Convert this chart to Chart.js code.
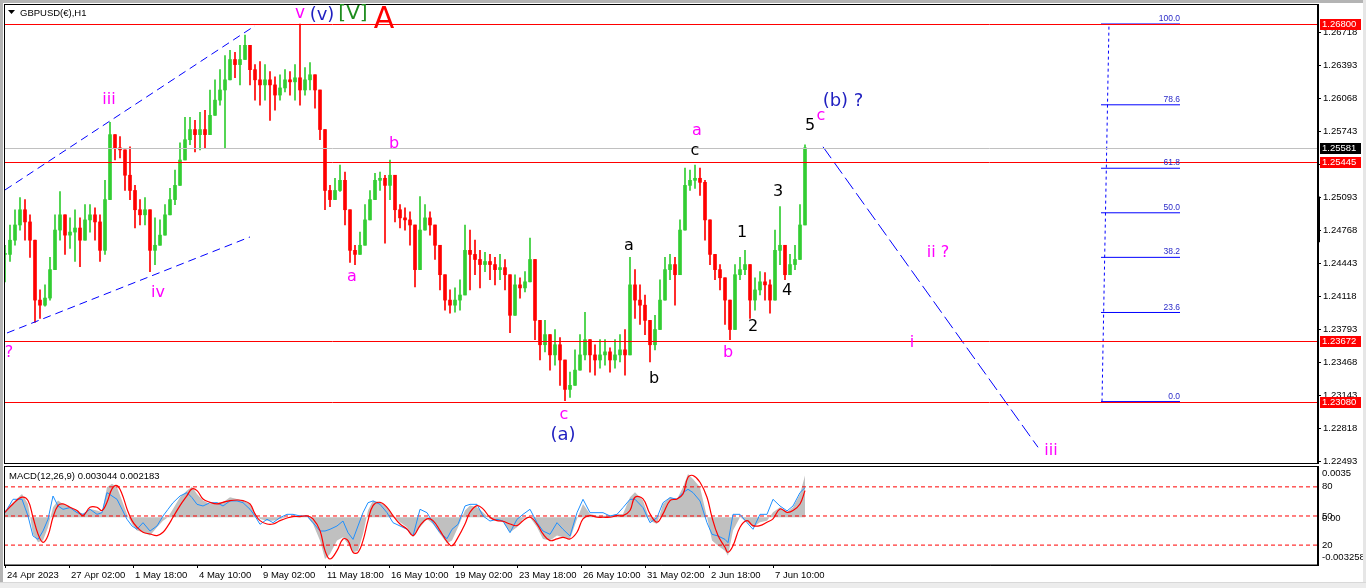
<!DOCTYPE html>
<html>
<head>
<meta charset="utf-8">
<script src="https://cdn.jsdelivr.net/npm/chart.js@4.4.1/dist/chart.umd.min.js"></script>
<style>
  html, body { margin: 0; padding: 0; background: #fff; }
  #wrap { position: relative; width: 1366px; height: 588px; background: #fff; overflow: hidden; }
  #mainBox { position: absolute; left: 0; top: 0; width: 1366px; height: 465px; }
  #macdBox { position: absolute; left: 0; top: 465px; width: 1366px; height: 117px; }
  .edge { position: absolute; background: #b4b4b4; }
  #bottomBar { position: absolute; left: 0; top: 582px; width: 1366px; height: 6px; background: #ececec; border-top: 1px solid #d8d8d8; }
</style>
</head>
<body>
<div id="wrap">
  <div id="mainBox"><canvas id="main" width="1366" height="465"></canvas></div>
  <div id="macdBox"><canvas id="macd" width="1366" height="117"></canvas></div>
  <div class="edge" style="left:0;top:0;width:3px;height:588px"></div>
  <div class="edge" style="left:0;top:0;width:1366px;height:3px"></div>
  <div class="edge" style="left:1363px;top:0;width:3px;height:588px;background:#e6e6e6"></div>
  <div id="bottomBar"></div>
</div>
<script>
// hourly bar index == horizontal position, one candle every 5 bars
const xMin = 4, xMax = 1318;
const candleStep = 5;

const closes = [
  1.2453,1.2467,1.2482,1.2497,1.2485,1.2467,1.2408,1.2403,1.2410,1.2438,
  1.2477,1.2492,1.2472,1.2475,1.2479,1.2467,1.2487,1.2492,1.2485,1.2457,
  1.2507,1.2571,1.2558,1.2556,1.2531,1.2516,1.2497,1.2492,1.2497,1.2457,
  1.2462,1.2472,1.2492,1.2507,1.2521,1.2546,1.2566,1.2576,1.2571,1.2576,
  1.2571,1.2590,1.2605,1.2615,1.2625,1.2645,1.2640,1.2645,1.2659,1.2635,
  1.2625,1.2620,1.2625,1.2620,1.2610,1.2617,1.2625,1.2623,1.2627,1.2615,
  1.2625,1.2630,1.2615,1.2576,1.2516,1.2507,1.2516,1.2526,1.2497,1.2457,
  1.2453,1.2462,1.2487,1.2507,1.2526,1.2528,1.2521,1.2531,1.2497,1.2489,
  1.2487,1.2482,1.2438,1.2477,1.2489,1.2482,1.2462,1.2433,1.2408,1.2403,
  1.2408,1.2413,1.2457,1.2453,1.2448,1.2443,1.2446,1.2443,1.2438,1.2440,
  1.2433,1.2393,1.2423,1.2420,1.2426,1.2448,1.2388,1.2364,1.2374,1.2354,
  1.2364,1.2349,1.2320,1.2324,1.2339,1.2354,1.2369,1.2354,1.2349,1.2354,
  1.2357,1.2349,1.2354,1.2359,1.2354,1.2423,1.2408,1.2403,1.2388,1.2364,
  1.2379,1.2408,1.2438,1.2443,1.2433,1.2477,1.2521,1.2526,1.2528,1.2524,
  1.2487,1.2453,1.2438,1.2430,1.2408,1.2379,1.2433,1.2438,1.2443,1.2408,
  1.2418,1.2426,1.2423,1.2408,1.2457,1.2462,1.2433,1.2443,1.2448,1.2482,
  1.2558
];
const highs = [
  1.2462,1.2482,1.2497,1.2509,1.2507,1.2492,1.2448,1.2418,1.2423,1.2450,
  1.2492,1.2515,1.2489,1.2489,1.2497,1.2489,1.2502,1.2502,1.2499,1.2492,
  1.2526,1.2583,1.2571,1.2569,1.2556,1.2559,1.2521,1.2507,1.2509,1.2492,
  1.2489,1.2487,1.2502,1.2518,1.2536,1.2563,1.2588,1.2588,1.2585,1.2593,
  1.2595,1.2615,1.2625,1.2635,1.2649,1.2654,1.2652,1.2659,1.2669,1.2649,
  1.2640,1.2643,1.2640,1.2633,1.2628,1.2630,1.2635,1.2633,1.2640,1.2680,
  1.2637,1.2642,1.2627,1.2615,1.2576,1.2521,1.2528,1.2541,1.2534,1.2487,
  1.2462,1.2475,1.2502,1.2516,1.2533,1.2534,1.2531,1.2546,1.2531,1.2502,
  1.2499,1.2495,1.2482,1.2510,1.2502,1.2495,1.2482,1.2462,1.2428,1.2418,
  1.2420,1.2428,1.2482,1.2477,1.2467,1.2457,1.2455,1.2453,1.2450,1.2453,
  1.2448,1.2423,1.2433,1.2430,1.2436,1.2469,1.2438,1.2379,1.2388,1.2369,
  1.2379,1.2371,1.2339,1.2337,1.2359,1.2374,1.2396,1.2369,1.2364,1.2369,
  1.2369,1.2361,1.2369,1.2374,1.2379,1.2450,1.2438,1.2423,1.2413,1.2379,
  1.2393,1.2428,1.2450,1.2453,1.2450,1.2487,1.2538,1.2536,1.2541,1.2538,
  1.2526,1.2467,1.2453,1.2443,1.2428,1.2393,1.2443,1.2450,1.2457,1.2433,
  1.2430,1.2436,1.2435,1.2428,1.2477,1.2500,1.2453,1.2453,1.2462,1.2502,
  1.2561
];
const lows = [
  1.2426,1.2446,1.2462,1.2477,1.2467,1.2450,1.2386,1.2390,1.2402,1.2408,
  1.2446,1.2467,1.2453,1.2459,1.2446,1.2441,1.2467,1.2475,1.2467,1.2446,
  1.2453,1.2507,1.2546,1.2548,1.2516,1.2507,1.2479,1.2482,1.2482,1.2436,
  1.2443,1.2462,1.2482,1.2492,1.2502,1.2531,1.2551,1.2561,1.2554,1.2556,
  1.2558,1.2571,1.2595,1.2600,1.2558,1.2625,1.2627,1.2620,1.2645,1.2620,
  1.2605,1.2600,1.2605,1.2585,1.2595,1.2605,1.2613,1.2610,1.2605,1.2600,
  1.2610,1.2615,1.2597,1.2566,1.2497,1.2500,1.2507,1.2515,1.2482,1.2445,
  1.2443,1.2453,1.2472,1.2495,1.2511,1.2516,1.2464,1.2507,1.2485,1.2479,
  1.2477,1.2462,1.2421,1.2453,1.2477,1.2472,1.2448,1.2418,1.2398,1.2395,
  1.2396,1.2398,1.2428,1.2418,1.2433,1.2420,1.2436,1.2428,1.2423,1.2428,
  1.2418,1.2376,1.2408,1.2410,1.2416,1.2428,1.2369,1.2349,1.2357,1.2339,
  1.2344,1.2324,1.2309,1.2312,1.2324,1.2339,1.2349,1.2337,1.2334,1.2341,
  1.2344,1.2337,1.2341,1.2347,1.2334,1.2364,1.2390,1.2384,1.2374,1.2347,
  1.2359,1.2388,1.2423,1.2428,1.2403,1.2448,1.2502,1.2516,1.2518,1.2511,
  1.2467,1.2443,1.2428,1.2418,1.2384,1.2369,1.2418,1.2428,1.2433,1.2390,
  1.2398,1.2413,1.2408,1.2395,1.2443,1.2443,1.2428,1.2433,1.2438,1.2457,
  1.2482
];

// price scale
const priceMin = 1.22475, priceMax = 1.26997;
const priceTicks = [1.26718,1.26393,1.26068,1.25743,1.25418,1.25093,1.24768,
  1.24443,1.24118,1.23793,1.23468,1.23143,1.22818,1.22493];
const redLevels = [1.26800, 1.25445, 1.23672, 1.23080];
const bidPrice = 1.25581;

// trend lines [bar, price]
const channelUpper = [[5, 1.25165], [255, 1.26783]];
const channelLower = [[7, 1.23756], [250, 1.24702]];
const projection = [[823, 1.2559], [1038, 1.2263]];

// fibonacci retracement
const fibLow = 1.23080, fibHigh = 1.26800;
const fibLevels = [0, 23.6, 38.2, 50, 61.8, 78.6, 100];
const fibSpan = [1101, 1180];
const fibAnchor = [[1102, fibLow], [1109, fibHigh]];

// MACD sub window
const macdBars = [5,13,22,28,33,38,43,48,53,58,63,70,77,83,90,97,102,107,112,117,
  122,127,132,137,143,150,157,163,168,173,180,187,192,197,203,210,217,223,230,237,
  243,250,255,260,267,273,280,287,293,300,307,313,320,325,330,337,343,348,353,358,
  363,368,373,380,387,393,400,407,413,420,427,433,440,447,452,458,465,470,477,483,
  490,497,503,510,517,523,530,537,543,550,557,563,570,577,583,590,597,603,610,617,
  623,630,635,643,650,657,663,670,677,683,688,693,700,707,712,718,725,728,733,740,
  747,753,760,767,773,780,787,793,800,805];
const macdMain = [
  0.00046,0.00102,0.00159,0.00091,-0.00114,-0.00171,-0.00159,-0.00068,0.00068,0.00114,
  0.00091,0.00068,0.00046,0.00023,0.00057,0.00046,0.00034,0.00205,0.00228,0.00205,
  0.00114,0.00023,-0.00046,-0.00091,-0.00102,-0.00125,-0.00068,-0.00023,0,0.00057,
  0.00137,0.00182,0.00209,0.00159,0.00114,0.00091,0.00102,0.00102,0.00137,0.00125,
  0.00114,0.00091,0.00023,-0.00011,-0.00023,-0.00023,-0.00011,0,0,0.00005,
  0.00005,-0.00046,-0.00159,-0.00285,-0.00250,-0.00159,-0.00137,-0.00182,-0.00239,-0.00228,
  -0.00114,0.00046,0.00114,0.00102,0.00068,0.00011,-0.00034,-0.00068,-0.00137,-0.00068,
  -0.00011,-0.00046,-0.00114,-0.00178,-0.00159,-0.00068,0.00046,0.00080,0.00068,0.00034,
  -0.00011,-0.00023,-0.00034,-0.00102,-0.00068,-0.00011,0,-0.00068,-0.00148,-0.00159,
  -0.00125,-0.00137,-0.00148,-0.00011,0.00091,0.00023,0.00011,0.00011,0.00011,0.00023,
  0.00023,0.00137,0.00171,0.00114,-0.00023,-0.00046,0.00091,0.00137,0.00125,0.00205,
  0.00296,0.00262,0.00205,0,-0.00159,-0.00194,-0.00228,-0.00262,-0.00091,0,
  -0.00034,-0.00068,-0.00034,-0.00023,0.00034,0.00068,0.00034,0.00068,0.00159,0.00285
];
const macdSignal = [
  0.00034,0.00091,0.00137,0.00114,0,-0.00114,-0.00171,-0.00125,0,0.00080,
  0.00091,0.00068,0.00046,0.00011,0.00068,0.00068,0.00046,0.00102,0.00194,0.00216,
  0.00159,0.00057,-0.00023,-0.00068,-0.00102,-0.00114,-0.00125,-0.00102,-0.00057,0,
  0.00080,0.00148,0.00194,0.00182,0.00125,0.00102,0.00091,0.00102,0.00114,0.00118,
  0.00114,0.00091,0.00023,-0.00023,-0.00046,-0.00046,-0.00023,-0.00005,0.00005,0.00005,
  0.00009,-0.00011,-0.00091,-0.00228,-0.00285,-0.00228,-0.00148,-0.00159,-0.00239,-0.00239,
  -0.00159,-0.00023,0.00080,0.00102,0.00068,0.00011,-0.00046,-0.00080,-0.00125,-0.00057,
  -0.00011,-0.00023,-0.00091,-0.00166,-0.00194,-0.00137,-0.00046,0.00034,0.00080,0.00057,
  0,-0.00023,-0.00027,-0.00046,-0.00057,-0.00023,0,-0.00046,-0.00114,-0.00159,
  -0.00148,-0.00137,-0.00148,-0.00102,-0.00011,0.00011,0,0,0,0.00011,
  0.00011,0.00046,0.00137,0.00125,0.00023,-0.00034,0.00023,0.00114,0.00125,0.00159,
  0.00273,0.00285,0.00239,0.00137,0,-0.00125,-0.00205,-0.00239,-0.00194,-0.00068,
  -0.00023,-0.00057,-0.00057,-0.00034,-0.00011,0.00057,0.00034,0.00046,0.00091,0.00182
];
// blue oscillator drawn on the 0-100 scale of the window
const oscValues = [
  53.4,67.2,67.2,50,29.4,25.9,34.5,46.6,70.6,60.3,
  56.9,58.6,53.4,51.7,56.9,51.7,53.4,74.1,70.6,67.2,
  56.9,46.6,39.7,36.3,43.1,34.5,39.7,50,56.9,63.7,
  70.6,74.1,68.9,62.0,60.3,63.7,63.7,60.3,65.5,65.5,
  63.7,56.9,50,41.4,46.6,43.1,48.3,51.7,51.7,50,
  50,43.1,34.5,34.5,36.3,39.7,44.8,32.8,25.9,39.7,
  53.4,63.7,65.5,62.0,53.4,43.1,39.7,36.3,29.4,56.9,
  53.4,43.1,32.8,26.6,36.3,41.4,60.3,62.0,62.0,50,
  44.8,46.6,44.8,32.8,46.6,51.7,56.9,43.1,34.5,31.1,
  43.1,36.3,29.4,53.4,67.2,53.4,53.4,53.4,50,51.7,
  58.6,67.2,67.2,58.6,43.1,48.3,63.7,68.9,67.2,74.1,
  77.5,74.1,65.5,43.1,31.1,29.4,25.9,22.5,51.7,51.7,
  43.1,36.3,51.7,51.7,67.2,60.3,55.2,60.3,74.1,79.2
];
const oscLevels = [80, 50, 20];
const macdMin = -0.003258, macdMax = 0.0035;

// time axis
const dateBars = [5, 69, 133, 197, 261, 325, 389, 453, 517, 581, 645, 709, 773];
const dateLabels = ['24 Apr 2023', '27 Apr 02:00', '1 May 18:00', '4 May 10:00', '9 May 02:00',
  '11 May 18:00', '16 May 10:00', '19 May 02:00', '23 May 18:00', '26 May 10:00',
  '31 May 02:00', '2 Jun 18:00', '7 Jun 10:00'];

// wave count annotations
const MAG = '#ff00ff', NAVY = '#1f1fc0', BLK = '#000000';
const waveLabels = [
  { t: 'v', bar: 300, p: 1.26898, c: MAG, s: 17 },
  { t: '(v)', bar: 322, p: 1.26888, c: NAVY, s: 18 },
  { t: '[V]', bar: 353, p: 1.26898, c: '#1e8c1e', s: 20 },
  { t: 'A', bar: 384, p: 1.26840, c: '#ff0000', s: 30 },
  { t: 'iii', bar: 109, p: 1.26051, c: MAG, s: 16 },
  { t: 'iv', bar: 158, p: 1.24150, c: MAG, s: 16 },
  { t: '?', bar: 9, p: 1.23559, c: MAG, s: 16 },
  { t: 'b', bar: 394, p: 1.25618, c: MAG, s: 16 },
  { t: 'a', bar: 352, p: 1.24308, c: MAG, s: 16 },
  { t: 'c', bar: 564, p: 1.22948, c: MAG, s: 16 },
  { t: '(a)', bar: 563, p: 1.22751, c: NAVY, s: 18 },
  { t: 'a', bar: 629, p: 1.24613, c: BLK, s: 16 },
  { t: 'b', bar: 654, p: 1.23303, c: BLK, s: 16 },
  { t: 'c', bar: 695, p: 1.25549, c: BLK, s: 16 },
  { t: 'a', bar: 697, p: 1.25746, c: MAG, s: 16 },
  { t: 'b', bar: 728, p: 1.23559, c: MAG, s: 16 },
  { t: '1', bar: 742, p: 1.24741, c: BLK, s: 16 },
  { t: '2', bar: 753, p: 1.23815, c: BLK, s: 16 },
  { t: '3', bar: 778, p: 1.25145, c: BLK, s: 16 },
  { t: '4', bar: 787, p: 1.24170, c: BLK, s: 16 },
  { t: '5', bar: 810, p: 1.25795, c: BLK, s: 16 },
  { t: 'c', bar: 821, p: 1.25894, c: MAG, s: 16 },
  { t: '(b) ?', bar: 843, p: 1.26041, c: NAVY, s: 18 },
  { t: 'ii ?', bar: 938, p: 1.24544, c: MAG, s: 16 },
  { t: 'i', bar: 912, p: 1.23658, c: MAG, s: 16 },
  { t: 'iii', bar: 1051, p: 1.22594, c: MAG, s: 16 }
];

Chart.defaults.font.family = '"Liberation Sans", Arial, sans-serif';
Chart.defaults.font.size = 9.5;
Chart.defaults.color = '#000';

// candles
const candleBars = closes.map((_, i) => candleStep + i * candleStep);
const opens = closes.map((c, i) => i ? closes[i - 1] : c);
const candleColors = closes.map((c, i) => c >= opens[i] ? '#32cd32' : '#ff0000');
const wickData = candleBars.map((x, i) => ({
  x, y: [Math.min(lows[i], opens[i], closes[i]), Math.max(highs[i], opens[i], closes[i])]
}));
const bodyData = candleBars.map((x, i) => ({
  x, y: [Math.min(opens[i], closes[i]), Math.max(opens[i], closes[i])]
}));

const segLine = (pts, color, dash, extra) => Object.assign({
  type: 'line', data: pts.map(([x, y]) => ({ x, y })),
  borderColor: color, borderWidth: 1, borderDash: dash, pointRadius: 0, order: 1
}, extra || {});
const fibPrice = lvl => fibLow + lvl / 100 * (fibHigh - fibLow);

const mainDatasets = [
  { type: 'bar', data: wickData, backgroundColor: candleColors, barThickness: 1,
    grouped: false, borderWidth: 0, order: 4 },
  { type: 'bar', data: bodyData, backgroundColor: candleColors, barThickness: 3,
    grouped: false, borderWidth: 0, minBarLength: 1, order: 3 },
  segLine(channelUpper, '#0000ff', [8, 5]),
  segLine(channelLower, '#0000ff', [8, 5]),
  segLine(projection, '#0000ff', [14, 5]),
  segLine(fibAnchor, '#0000ff', [3, 3]),
  ...fibLevels.map(l => segLine([[fibSpan[0], fibPrice(l)], [fibSpan[1], fibPrice(l)]], '#0000ff', []))
];

// crisp full-width horizontal levels, placed through the y scale
const levelLines = {
  id: 'levelLines',
  afterDatasetsDraw(chart) {
    const { ctx, chartArea: a, scales: { y } } = chart;
    ctx.save();
    ctx.lineWidth = 1;
    const draw = (v, color) => {
      const py = Math.round(y.getPixelForValue(v)) + 0.5;
      ctx.strokeStyle = color;
      ctx.beginPath();
      ctx.moveTo(a.left, py);
      ctx.lineTo(a.right, py);
      ctx.stroke();
    };
    draw(bidPrice, '#c0c0c0');
    redLevels.forEach(v => draw(v, '#ff0000'));
    ctx.restore();
  }
};

const mainOverlay = {
  id: 'mainOverlay',
  afterDraw(chart) {
    const { ctx, chartArea: a, scales: { x, y } } = chart;
    ctx.save();
    // frame
    ctx.strokeStyle = '#000';
    ctx.lineWidth = 1;
    ctx.strokeRect(a.left + 0.5, a.top + 0.5, a.right - a.left - 1, a.bottom - a.top);
    // title
    ctx.fillStyle = '#000';
    ctx.beginPath();
    ctx.moveTo(a.left + 4, a.top + 6);
    ctx.lineTo(a.left + 11, a.top + 6);
    ctx.lineTo(a.left + 7.5, a.top + 10);
    ctx.closePath();
    ctx.fill();
    ctx.font = '9.5px "Liberation Sans", Arial, sans-serif';
    ctx.textBaseline = 'middle';
    ctx.textAlign = 'left';
    ctx.fillText('GBPUSD(€),H1', a.left + 16, a.top + 9);
    // wave labels
    ctx.textAlign = 'center';
    waveLabels.forEach(w => {
      ctx.font = w.s + 'px "DejaVu Sans", Verdana, sans-serif';
      ctx.fillStyle = w.c;
      ctx.fillText(w.t, x.getPixelForValue(w.bar), y.getPixelForValue(w.p));
    });
    // fib level texts
    ctx.font = '8.5px "Liberation Sans", Arial, sans-serif';
    ctx.fillStyle = '#2a2ac8';
    ctx.textAlign = 'right';
    ctx.textBaseline = 'bottom';
    fibLevels.forEach(l => {
      ctx.fillText(l.toFixed(1), x.getPixelForValue(fibSpan[1]), y.getPixelForValue(fibPrice(l)) - 1);
    });
    // price boxes on the axis
    ctx.font = '9.5px "Liberation Sans", Arial, sans-serif';
    ctx.textAlign = 'left';
    ctx.textBaseline = 'middle';
    const box = (v, bg) => {
      const py = Math.round(y.getPixelForValue(v));
      ctx.fillStyle = bg;
      ctx.fillRect(a.right + 2, py - 5, 41, 11);
      ctx.fillStyle = '#fff';
      ctx.fillText(v.toFixed(5), a.right + 4, py + 0.5);
    };
    redLevels.forEach(v => box(v, '#ff0000'));
    box(bidPrice, '#000');
    // scale handle
    const h1 = y.getPixelForValue(1.2510), h2 = y.getPixelForValue(1.2465);
    ctx.fillStyle = '#000';
    ctx.fillRect(a.right - 1, h1, 3, h2 - h1);
    ctx.restore();
  }
};

new Chart(document.getElementById('main'), {
  type: 'bar',
  data: { datasets: mainDatasets },
  options: {
    responsive: false,
    animation: false,
    events: [],
    layout: { padding: { left: 4, top: 4, bottom: 2, right: 0 } },
    plugins: { legend: { display: false }, tooltip: { enabled: false } },
    scales: {
      x: {
        type: 'linear', min: xMin, max: xMax, display: false, offset: false,
        grid: { offset: false }
      },
      y: {
        position: 'right', min: priceMin, max: priceMax,
        afterFit: s => { s.width = 48; s.paddingTop = 0; s.paddingBottom = 0; },
        afterBuildTicks: s => { s.ticks = priceTicks.map(v => ({ value: v })); },
        ticks: { callback: v => v.toFixed(5), autoSkip: false, padding: 2, color: '#000' },
        grid: { drawOnChartArea: false, drawTicks: true, tickLength: 3, color: '#000' },
        border: { color: '#000' }
      }
    }
  },
  plugins: [levelLines, mainOverlay]
});

// MACD window
const macdOverlay = {
  id: 'macdOverlay',
  afterDraw(chart) {
    const { ctx, chartArea: a, scales: { y, ys } } = chart;
    ctx.save();
    ctx.strokeStyle = '#000';
    ctx.lineWidth = 1;
    ctx.strokeRect(a.left + 0.5, a.top + 0.5, a.right - a.left - 1, a.bottom - a.top - 0.5);
    ctx.fillStyle = '#000';
    ctx.font = '9.5px "Liberation Sans", Arial, sans-serif';
    ctx.textBaseline = 'middle';
    ctx.textAlign = 'left';
    ctx.fillText('MACD(12,26,9) 0.003044 0.002183', a.left + 5, a.top + 10);
    const lx = a.right + 4;
    ctx.fillText(macdMax.toString(), lx, a.top + 7);
    oscLevels.forEach(l => ctx.fillText(String(l), lx, ys.getPixelForValue(l)));
    ctx.fillText('0.00', lx, y.getPixelForValue(0) + 1);
    ctx.fillText(macdMin.toString(), lx, a.bottom - 8);
    ctx.restore();
  }
};

const pts = arr => macdBars.map((x, i) => ({ x, y: arr[i] }));

new Chart(document.getElementById('macd'), {
  type: 'line',
  data: {
    datasets: [
      { data: pts(macdMain), yAxisID: 'y', borderWidth: 0, borderColor: 'rgba(0,0,0,0)',
        backgroundColor: '#c0c0c0', fill: 'origin', pointRadius: 0, order: 5 },
      ...oscLevels.map(l => ({
        data: [{ x: xMin, y: l }, { x: xMax, y: l }], yAxisID: 'ys',
        borderColor: '#ff0000', borderWidth: 1, borderDash: [4, 3], pointRadius: 0, order: 4
      })),
      { data: pts(oscValues), yAxisID: 'ys', borderColor: '#1e90ff', borderWidth: 1,
        pointRadius: 0, order: 2 },
      { data: pts(macdSignal), yAxisID: 'y', borderColor: '#ff0000', borderWidth: 1.2,
        pointRadius: 0, tension: 0.4, order: 1 }
    ]
  },
  options: {
    responsive: false,
    animation: false,
    events: [],
    layout: { padding: { left: 4, top: 1, bottom: 0, right: 0 } },
    plugins: { legend: { display: false }, tooltip: { enabled: false } },
    scales: {
      x: {
        type: 'linear', min: xMin, max: xMax,
        afterFit: s => { s.height = 17; s.paddingLeft = 0; s.paddingRight = 0; },
        afterBuildTicks: s => { s.ticks = dateBars.map(v => ({ value: v })); },
        ticks: {
          callback: (v, i) => dateLabels[i], autoSkip: false, maxRotation: 0,
          align: 'start', labelOffset: 2, padding: 2, color: '#000'
        },
        grid: { drawOnChartArea: false, drawTicks: true, tickLength: 3, color: '#000' },
        border: { color: '#000' }
      },
      y: {
        position: 'right', min: macdMin, max: macdMax,
        afterFit: s => { s.width = 48; s.paddingTop = 0; s.paddingBottom = 0; },
        ticks: { display: false },
        grid: { display: false },
        border: { color: '#000' }
      },
      ys: { position: 'right', min: -0.5, max: 101.5, display: false }
    }
  },
  plugins: [macdOverlay]
});
</script>
</body>
</html>
